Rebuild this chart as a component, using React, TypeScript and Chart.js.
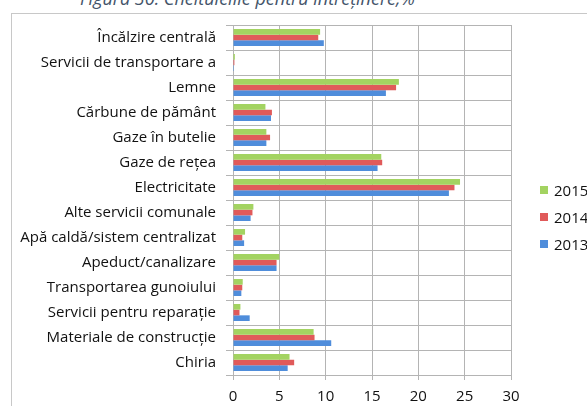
import React, { useEffect, useRef } from 'react';
import { Chart, registerables } from 'chart.js';
Chart.register(...registerables);

const titleText = 'Figura 30. Cheltuielile pentru întreținere,%';
const categories = [
  'Încălzire centrală',
  'Servicii de transportare a',
  'Lemne',
  'Cărbune de pământ',
  'Gaze în butelie',
  'Gaze de rețea',
  'Electricitate',
  'Alte servicii comunale',
  'Apă caldă/sistem centralizat',
  'Apeduct/canalizare',
  'Transportarea gunoiului',
  'Servicii pentru reparație',
  'Materiale de construcție',
  'Chiria',
];
const seriesNames = ['2015', '2014', '2013'];
const values2015 = [9.4, 0.2, 17.9, 3.5, 3.6, 16.0, 24.5, 2.2, 1.3, 5.0, 1.05, 0.8, 8.7, 6.1];
const values2014 = [9.2, 0.15, 17.6, 4.2, 4.0, 16.1, 23.9, 2.1, 1.0, 4.7, 1.0, 0.7, 8.8, 6.6];
const values2013 = [9.8, 0.1, 16.5, 4.1, 3.6, 15.6, 23.3, 1.9, 1.2, 4.7, 0.9, 1.8, 10.6, 5.9];
const xTicks = [0, 5, 10, 15, 20, 25, 30];
const seriesColors = ['#a3d361', '#e05a5a', '#4f8ddb'];

export default function App() {
  const canvasRef = useRef<HTMLCanvasElement>(null);

  useEffect(() => {
    document.body.style.margin = '0';
    const canvas = canvasRef.current;
    if (!canvas) return;
    const chart = new Chart(canvas, {
      type: 'bar',
      data: {
        labels: categories,
        datasets: [values2015, values2014, values2013].map((d, i) => ({
          label: seriesNames[i],
          data: d,
          backgroundColor: seriesColors[i],
          borderWidth: 0,
          categoryPercentage: 0.68,
          barPercentage: 1,
        })),
      },
      options: {
        indexAxis: 'y',
        animation: false,
        responsive: false,
        maintainAspectRatio: false,
        layout: { padding: { left: 0, right: 76, top: 25, bottom: 0 } },
        plugins: {
          legend: { display: false },
          tooltip: { enabled: false },
          title: { display: false },
        },
        scales: {
          x: {
            type: 'linear',
            min: 0,
            max: 30,
            afterBuildTicks: (scale: any) => {
              scale.ticks = xTicks.map((v) => ({ value: v }));
            },
            afterFit: (scale: any) => {
              scale.height = 31;
            },
            grid: { color: '#b4b4b4', lineWidth: 1, tickLength: 5, drawTicks: true },
            border: { color: '#b4b4b4' },
            ticks: {
              color: '#111',
              padding: 8,
              font: { family: 'Open Sans', size: 15 },
            },
          },
          y: {
            type: 'category',
            afterFit: (scale: any) => {
              scale.width = 233;
            },
            grid: { color: '#b4b4b4', lineWidth: 1, tickLength: 7, offset: true },
            border: { color: '#b4b4b4' },
            ticks: {
              color: '#111',
              padding: 10,
              autoSkip: false,
              font: { family: 'Open Sans', size: 15 },
            },
          },
        },
      },
    });
    return () => chart.destroy();
  }, []);

  return (
    <div style={{ position: 'fixed', left: 0, top: 0, width: 587, height: 406, overflow: 'hidden', background: '#fff' }}>
      <div
        style={{
          position: 'absolute',
          left: 11,
          top: 13,
          width: 700,
          height: 500,
          border: '1px solid #c8c8c8',
          boxSizing: 'border-box',
        }}
      />
      <div
        style={{
          position: 'absolute',
          left: 80,
          top: -14,
          fontFamily: 'Open Sans',
          fontStyle: 'italic',
          fontSize: 18,
          lineHeight: '24px',
          color: '#44546a',
          whiteSpace: 'nowrap',
        }}
      >
        {titleText}
      </div>
      <canvas ref={canvasRef} width={587} height={406} style={{ position: 'absolute', left: 0, top: 0 }} />
      <div style={{ position: 'absolute', left: 540, top: 176, fontFamily: 'Open Sans', fontSize: 15, color: '#111' }}>
        {seriesNames.map((n, i) => (
          <div key={n} style={{ display: 'flex', alignItems: 'center', height: 27 }}>
            <span style={{ display: 'inline-block', width: 8, height: 8, background: seriesColors[i], marginRight: 6 }} />
            <span>{n}</span>
          </div>
        ))}
      </div>
    </div>
  );
}
